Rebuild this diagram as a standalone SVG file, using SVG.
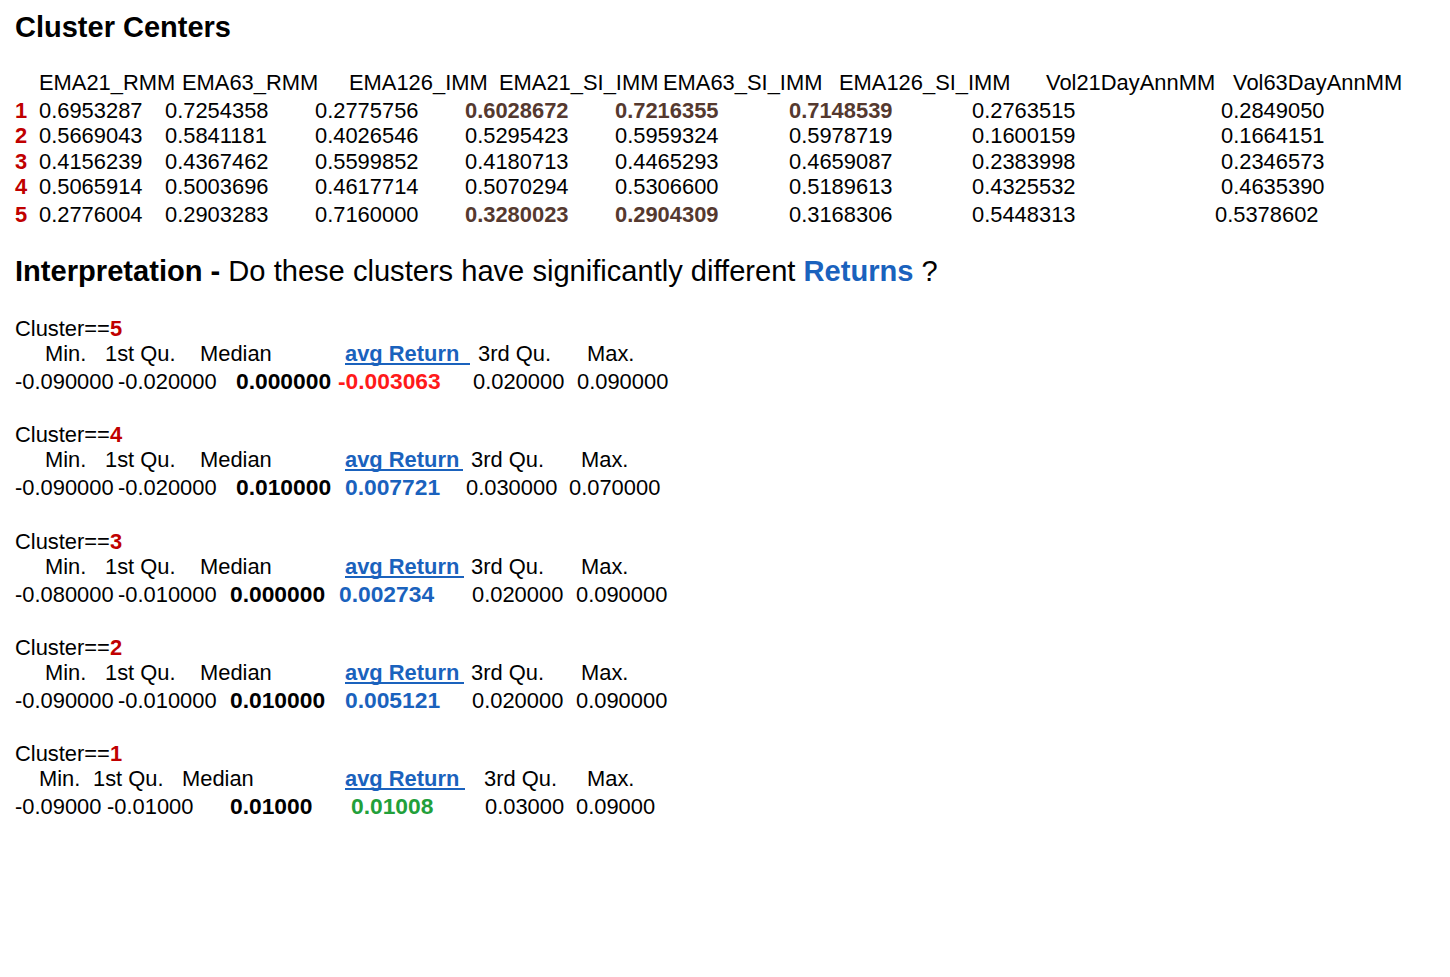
<svg xmlns="http://www.w3.org/2000/svg" width="1450" height="977" viewBox="0 0 1450 977">
<style>
text{font-family:"Liberation Sans",Arial,sans-serif;font-size:21.9px;fill:#000}
.h{font-size:29px;font-weight:bold}
.big{font-size:29.1px}
.b{font-weight:bold}
.v{font-size:22.8px}
.rn{font-weight:bold;fill:#c00000}
.br{font-weight:bold;fill:#55392f}
.bl{font-weight:bold;fill:#1a62bd}
.red{font-weight:bold;fill:#ff1a1a}
.gr{font-weight:bold;fill:#22a03a}
.ul{stroke:#1a62bd;stroke-width:2}
</style>
<rect width="1450" height="977" fill="#fff"/>
<g id="title"><text class="h" x="15" y="37">Cluster Centers</text></g>
<g id="centers">
<text x="39" y="90">EMA21_RMM</text><text x="182" y="90">EMA63_RMM</text><text x="349" y="90">EMA126_IMM</text><text x="499" y="90">EMA21_SI_IMM</text><text x="663" y="90">EMA63_SI_IMM</text><text x="839" y="90">EMA126_SI_IMM</text><text x="1046" y="90">Vol21DayAnnMM</text><text x="1233" y="90">Vol63DayAnnMM</text>
<text class="rn" x="15" y="118">1</text><text x="39" y="118">0.6953287</text><text x="165" y="118">0.7254358</text><text x="315" y="118">0.2775756</text><text class="br" x="465" y="118">0.6028672</text><text class="br" x="615" y="118">0.7216355</text><text class="br" x="789" y="118">0.7148539</text><text x="972" y="118">0.2763515</text><text x="1221" y="118">0.2849050</text>
<text class="rn" x="15" y="143">2</text><text x="39" y="143">0.5669043</text><text x="165" y="143">0.5841181</text><text x="315" y="143">0.4026546</text><text x="465" y="143">0.5295423</text><text x="615" y="143">0.5959324</text><text x="789" y="143">0.5978719</text><text x="972" y="143">0.1600159</text><text x="1221" y="143">0.1664151</text>
<text class="rn" x="15" y="169">3</text><text x="39" y="169">0.4156239</text><text x="165" y="169">0.4367462</text><text x="315" y="169">0.5599852</text><text x="465" y="169">0.4180713</text><text x="615" y="169">0.4465293</text><text x="789" y="169">0.4659087</text><text x="972" y="169">0.2383998</text><text x="1221" y="169">0.2346573</text>
<text class="rn" x="15" y="194">4</text><text x="39" y="194">0.5065914</text><text x="165" y="194">0.5003696</text><text x="315" y="194">0.4617714</text><text x="465" y="194">0.5070294</text><text x="615" y="194">0.5306600</text><text x="789" y="194">0.5189613</text><text x="972" y="194">0.4325532</text><text x="1221" y="194">0.4635390</text>
<text class="rn" x="15" y="222">5</text><text x="39" y="222">0.2776004</text><text x="165" y="222">0.2903283</text><text x="315" y="222">0.7160000</text><text class="br" x="465" y="222">0.3280023</text><text class="br" x="615" y="222">0.2904309</text><text x="789" y="222">0.3168306</text><text x="972" y="222">0.5448313</text><text x="1215" y="222">0.5378602</text>
</g>
<g id="interpretation"><text class="big" x="15" y="281"><tspan font-weight="bold">Interpretation - </tspan>Do these clusters have significantly different <tspan class="bl">Returns</tspan> ?</text></g>
<g id="cluster5">
<text x="15" y="336">Cluster==<tspan class="rn">5</tspan></text>
<text x="45" y="361">Min.</text><text x="105" y="361">1st Qu.</text><text x="200" y="361">Median</text><text class="bl" x="345" y="361">avg Return</text><line class="ul" x1="345" y1="364" x2="470" y2="364"/><text x="478" y="361">3rd Qu.</text><text x="587" y="361">Max.</text>
<text x="15" y="389">-0.090000</text><text x="118" y="389">-0.020000</text><text class="b v" x="236" y="389">0.000000</text><text class="red v" x="338" y="389">-0.003063</text><text x="473" y="389">0.020000</text><text x="577" y="389">0.090000</text>
</g>
<g id="cluster4">
<text x="15" y="442">Cluster==<tspan class="rn">4</tspan></text>
<text x="45" y="467">Min.</text><text x="105" y="467">1st Qu.</text><text x="200" y="467">Median</text><text class="bl" x="345" y="467">avg Return</text><line class="ul" x1="345" y1="470" x2="463" y2="470"/><text x="471" y="467">3rd Qu.</text><text x="581" y="467">Max.</text>
<text x="15" y="495">-0.090000</text><text x="118" y="495">-0.020000</text><text class="b v" x="236" y="495">0.010000</text><text class="bl v" x="345" y="495">0.007721</text><text x="466" y="495">0.030000</text><text x="569" y="495">0.070000</text>
</g>
<g id="cluster3">
<text x="15" y="549">Cluster==<tspan class="rn">3</tspan></text>
<text x="45" y="574">Min.</text><text x="105" y="574">1st Qu.</text><text x="200" y="574">Median</text><text class="bl" x="345" y="574">avg Return</text><line class="ul" x1="345" y1="577" x2="464" y2="577"/><text x="471" y="574">3rd Qu.</text><text x="581" y="574">Max.</text>
<text x="15" y="602">-0.080000</text><text x="118" y="602">-0.010000</text><text class="b v" x="230" y="602">0.000000</text><text class="bl v" x="339" y="602">0.002734</text><text x="472" y="602">0.020000</text><text x="576" y="602">0.090000</text>
</g>
<g id="cluster2">
<text x="15" y="655">Cluster==<tspan class="rn">2</tspan></text>
<text x="45" y="680">Min.</text><text x="105" y="680">1st Qu.</text><text x="200" y="680">Median</text><text class="bl" x="345" y="680">avg Return</text><line class="ul" x1="345" y1="683" x2="464" y2="683"/><text x="471" y="680">3rd Qu.</text><text x="581" y="680">Max.</text>
<text x="15" y="708">-0.090000</text><text x="118" y="708">-0.010000</text><text class="b v" x="230" y="708">0.010000</text><text class="bl v" x="345" y="708">0.005121</text><text x="472" y="708">0.020000</text><text x="576" y="708">0.090000</text>
</g>
<g id="cluster1">
<text x="15" y="761">Cluster==<tspan class="rn">1</tspan></text>
<text x="39" y="786">Min.</text><text x="93" y="786">1st Qu.</text><text x="182" y="786">Median</text><text class="bl" x="345" y="786">avg Return</text><line class="ul" x1="345" y1="789" x2="465" y2="789"/><text x="484" y="786">3rd Qu.</text><text x="587" y="786">Max.</text>
<text x="15" y="814">-0.09000</text><text x="107" y="814">-0.01000</text><text class="b v" x="230" y="814">0.01000</text><text class="gr v" x="351" y="814">0.01008</text><text x="485" y="814">0.03000</text><text x="576" y="814">0.09000</text>
</g>
</svg>
